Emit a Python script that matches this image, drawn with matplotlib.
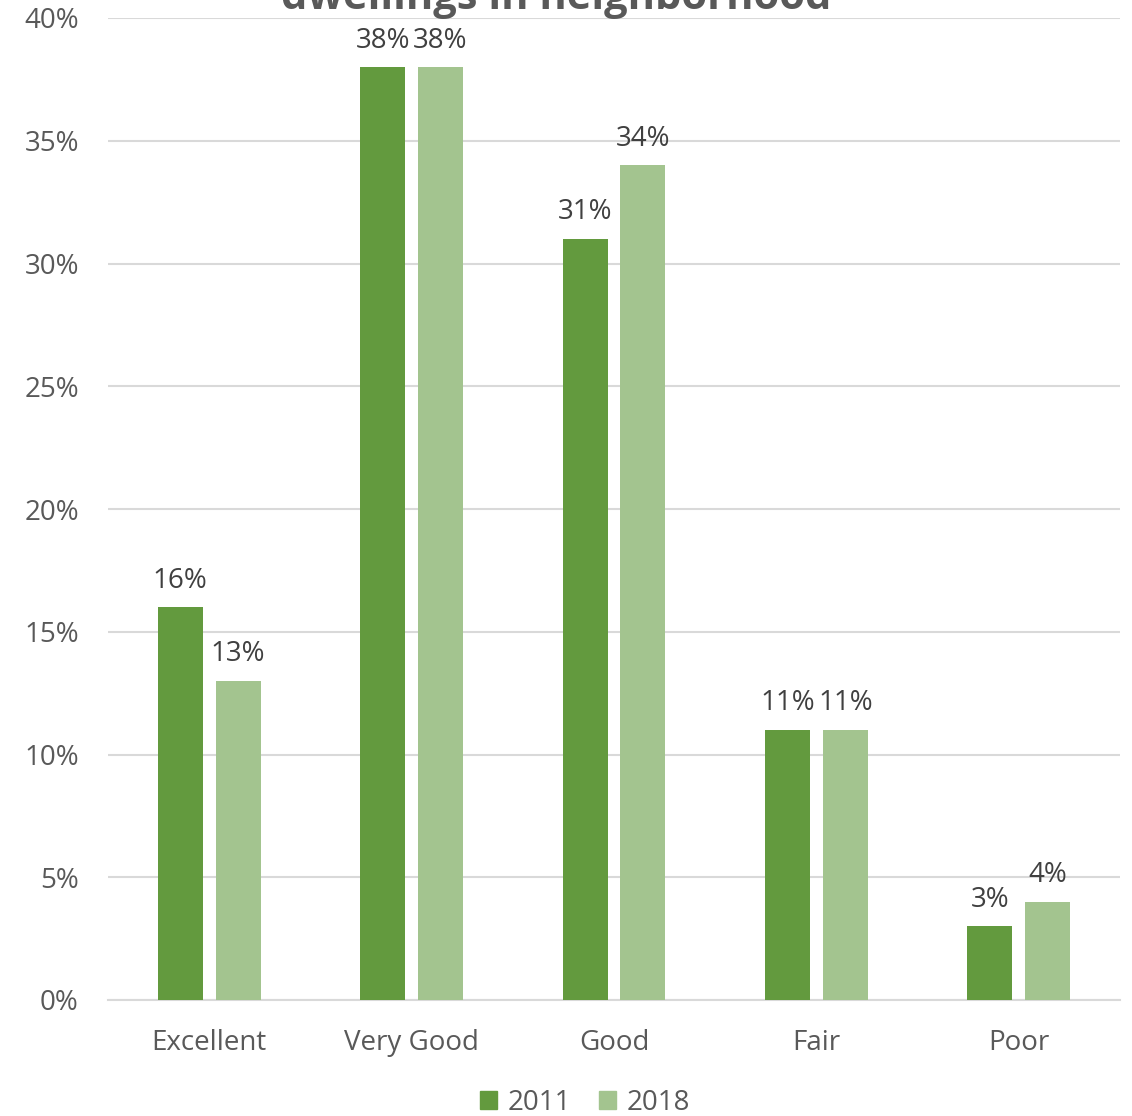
import matplotlib
matplotlib.use("Agg")
import matplotlib.pyplot as plt
import numpy as np
from matplotlib.patches import Patch

categories = ["Excellent", "Very Good", "Good", "Fair", "Poor"]
series_names = ["2011", "2018"]
values_2011 = [16, 38, 31, 11, 3]
values_2018 = [13, 38, 34, 11, 4]
yticks = [0, 5, 10, 15, 20, 25, 30, 35, 40]
title_visible = "dwellings in neighborhood"

c_dark = "#639a3e"
c_light = "#a3c48f"
txt = "#595959"
grid_c = "#d9d9d9"
plt.rcParams['font.family'] = ['Open Sans', 'DejaVu Sans']
FS = 20

fig = plt.figure(figsize=(11.32, 11.16), dpi=100)
ax = fig.add_axes([108/1132, 116/1116, (1120-108)/1132, (1000-18)/1116])

x = np.arange(len(categories))
w = 0.222
off = 0.143
b1 = ax.bar(x - off, values_2011, w, color=c_dark, zorder=3)
b2 = ax.bar(x + off, values_2018, w, color=c_light, zorder=3)

for bars, vals in ((b1, values_2011), (b2, values_2018)):
    for r, v in zip(bars, vals):
        ax.annotate(f"{v}%", (r.get_x() + r.get_width()/2, v), xytext=(0, 9),
                    textcoords="offset points", ha="center", va="bottom",
                    fontsize=FS, color="#404040")

ax.set_xlim(-0.5, 4.5)
ax.set_ylim(0, 40)
ax.set_yticks(yticks)
ax.set_yticklabels([f"{t}%" for t in yticks])
ax.set_xticks(x)
ax.set_xticklabels(categories)
ax.tick_params(axis='both', length=0, labelsize=FS, labelcolor=txt)
ax.tick_params(axis='y', pad=21)
ax.tick_params(axis='x', pad=21)
ax.grid(axis='y', color=grid_c, linewidth=1.5, zorder=0)
for s in ["top", "right", "left"]:
    ax.spines[s].set_visible(False)
ax.spines["bottom"].set_color(grid_c)
ax.spines["bottom"].set_linewidth(1.5)

fig.text(556/1132, 1 - 9/1116, title_visible, ha="center", va="baseline",
         fontsize=30, fontweight="bold", color=txt)

handles = [Patch(color=c_dark), Patch(color=c_light)]
fig.legend(handles, series_names, loc="center", bbox_to_anchor=(585/1132, 1 - 1103/1116),
           ncol=2, frameon=False, fontsize=FS, labelcolor=txt, handlelength=0.6,
           handleheight=0.6, handletextpad=0.4, columnspacing=1.0)

fig.savefig("out.png", dpi=100)
